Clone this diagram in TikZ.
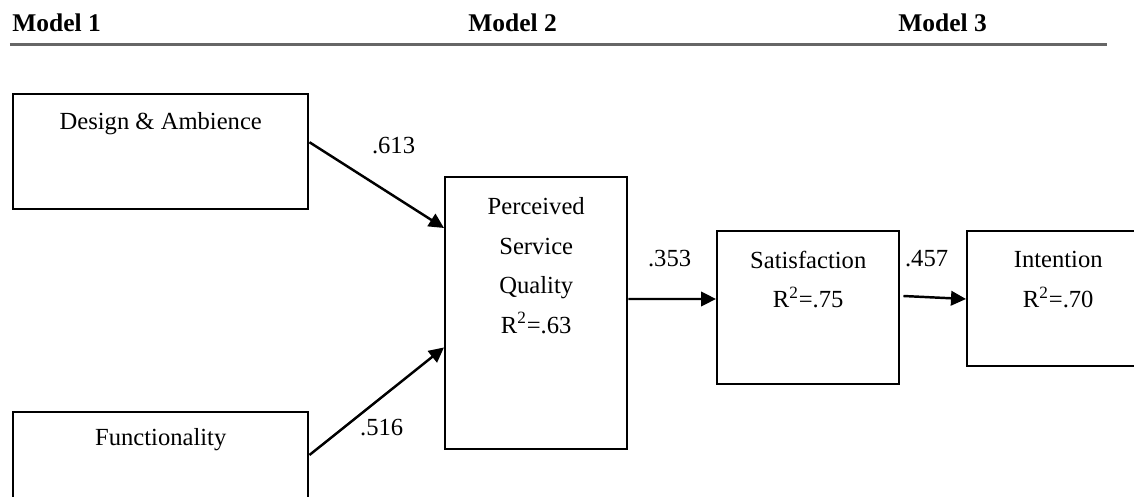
\documentclass[tikz,border=0pt]{standalone}
\usepackage{fontspec}
\setmainfont{Liberation Serif}
\usetikzlibrary{arrows.meta, positioning}

\begin{document}
\begin{tikzpicture}[
    font=\fontsize{14}{22.5}\selectfont,
    varbox/.style={rectangle, draw, line width=1.4pt, minimum width=3.64cm,
      inner sep=0pt},
    predbox/.style={varbox, minimum width=5.9cm, minimum height=2.3cm},
    txt/.style={align=center, inner sep=0pt},
    coef/.style={inner sep=0pt},
    modelhead/.style={font=\fontsize{14.5}{16}\selectfont\bfseries,
      anchor=base west, inner sep=0pt},
    arr/.style={-{Triangle[length=3mm, width=2.9mm]}, line width=1.4pt}
  ]
    \useasboundingbox (0,0) rectangle (22.68,-9.94);
    \clip (0,0) rectangle (22.68,-9.94);
    \fill[white] (0,0) rectangle (22.68,-9.94);

    % headings
    \node[modelhead] (m1) at (0.24,-0.64) {Model 1};
    \node[modelhead] (m2) at (9.36,-0.64) {Model 2};
    \node[modelhead] (m3) at (17.96,-0.64) {Model 3};
    \draw[line width=1.5pt, black!60] (0.2,-0.89) -- (22.14,-0.89);

    % boxes
    \node[predbox, anchor=north west] (da) at (0.24,-1.86) {};
    \node[predbox, anchor=north west] (fn) at (0.24,-8.22) {};
    \node[varbox, minimum height=5.44cm, anchor=north west] (psq) at (8.88,-3.52) {};
    \node[varbox, minimum height=3.06cm, anchor=north west] (sat) at (14.32,-4.60) {};
    \node[varbox, minimum height=2.70cm, anchor=north west] (int) at (19.32,-4.60) {};

    \node[txt] (daT) at ([yshift=-0.62cm]da.north) {Design \& Ambience};
    \node[txt] (fnT) at ([yshift=-0.58cm]fn.north) {Functionality};
    \node[txt] (psqT) at ([yshift=-1.79cm]psq.north)
      {Perceived\\Service\\Quality\\R\textsuperscript{2}=.63};
    \node[txt] (satT) at ([yshift=-0.99cm]sat.north) {Satisfaction\\R\textsuperscript{2}=.75};
    \node[txt] (intT) at ([yshift=-0.99cm]int.north) {Intention\\R\textsuperscript{2}=.70};

    % paths
    \draw[arr] ([yshift=0.19cm]da.east) --
      node[coef, pos=0.625, above=0.81cm] (c1) {.613} ([yshift=-1.04cm]psq.north west);
    \draw[arr] ([yshift=-0.88cm]fn.north east) --
      node[coef, pos=0.537, below=0.41cm] (c2) {.516} ([yshift=2.06cm]psq.south west);
    \draw[arr] ([yshift=-2.46cm]psq.north east) --
      node[coef, pos=0.47, above=0.62cm] (c3) {.353} ([yshift=-1.38cm]sat.north west);
    \draw[arr] ([xshift=0.06cm, yshift=-1.32cm]sat.north east) --
      node[coef, pos=0.37, above=0.58cm] (c4) {.457} ([yshift=-1.38cm]int.north west);
  \end{tikzpicture}
\end{document}
